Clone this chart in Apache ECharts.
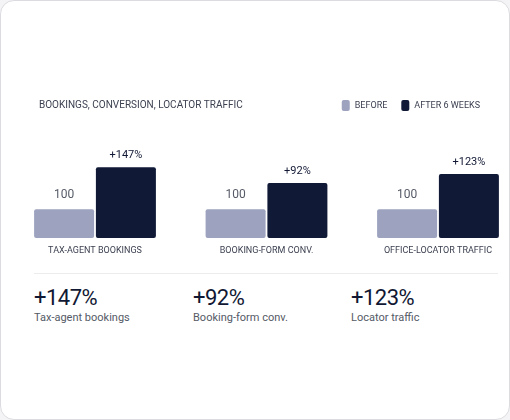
<!DOCTYPE html>
<html>
<head>
<meta charset="utf-8">
<script src="https://cdn.jsdelivr.net/npm/echarts@6/dist/echarts.min.js"></script>
<style>
  body { margin: 0; background: #f4f4f6; font-family: Roboto, "Noto Sans", sans-serif; }
  .card { position: absolute; left: 0; top: 0; width: 508px; height: 418px; background: #fff;
    border: 1px solid #dcdce0; border-radius: 14px; overflow: hidden; }
  #chart { position: absolute; left: 0; top: 0; width: 508px; height: 270px; }
  .divider { position: absolute; left: 33px; top: 272px; width: 464px; height: 1px; background: #ececef; }
  .kpi { position: absolute; top: 284px; color: #111833; }
  .kpi .big { font-size: 22px; line-height: 26px; letter-spacing: -0.5px; }
  .kpi .small { font-size: 11px; color: #555a66; margin-top: 0px; }
</style>
</head>
<body>
<div class="card">
  <div id="chart"></div>
  <div class="divider"></div>
  <div id="kpis"></div>
</div>
<script>
const categories = ['TAX-AGENT BOOKINGS', 'BOOKING-FORM CONV.', 'OFFICE-LOCATOR TRAFFIC'];
const beforeValues = [100, 100, 100];
const afterValues = [247, 192, 223];
const changeLabels = ['+147%', '+92%', '+123%'];
const kpiNames = ['Tax-agent bookings', 'Booking-form conv.', 'Locator traffic'];
const kpiLeft = [33, 192, 350];

const kpis = document.getElementById('kpis');
changeLabels.forEach((lab, i) => {
  const d = document.createElement('div');
  d.className = 'kpi';
  d.style.left = kpiLeft[i] + 'px';
  d.innerHTML = `<div class="big">${lab}</div><div class="small">${kpiNames[i]}</div>`;
  kpis.appendChild(d);
});

const myChart = echarts.init(document.getElementById('chart'));
myChart.setOption({
  animation: false,
  textStyle: { fontFamily: 'Roboto, "Noto Sans", sans-serif' },
  title: {
    text: 'BOOKINGS, CONVERSION, LOCATOR TRAFFIC',
    left: 33, top: 94,
    textStyle: { fontSize: 10, fontWeight: 'normal', color: '#3c4150' }
  },
  legend: {
    right: 24, top: 94, itemWidth: 8, itemHeight: 11, itemGap: 14,
    icon: 'roundRect',
    textStyle: { fontSize: 9, color: '#3c4150' },
    data: ['BEFORE', 'AFTER 6 WEEKS']
  },
  grid: { left: 94, right: 71, top: 151, height: 86 },
  xAxis: {
    type: 'category', data: categories, boundaryGap: false,
    axisLine: { show: false }, axisTick: { show: false },
    axisLabel: { fontSize: 9, color: '#3c4150', margin: 8, interval: 0 }
  },
  yAxis: { type: 'value', min: 0, max: 300, show: false, splitLine: { show: false } },
  series: [
    {
      name: 'BEFORE', type: 'bar', data: beforeValues, barWidth: 60, barGap: '3%',
      itemStyle: { color: '#9da3bf', borderRadius: 2 },
      label: { show: true, position: 'top', distance: 8, fontSize: 12, color: '#555a66' }
    },
    {
      name: 'AFTER 6 WEEKS', type: 'bar', data: afterValues, barWidth: 60,
      itemStyle: { color: '#101936', borderRadius: 2 },
      label: {
        show: true, position: 'top', distance: 6, fontSize: 11, color: '#111833',
        formatter: p => changeLabels[p.dataIndex]
      }
    }
  ]
});
</script>
</body>
</html>
